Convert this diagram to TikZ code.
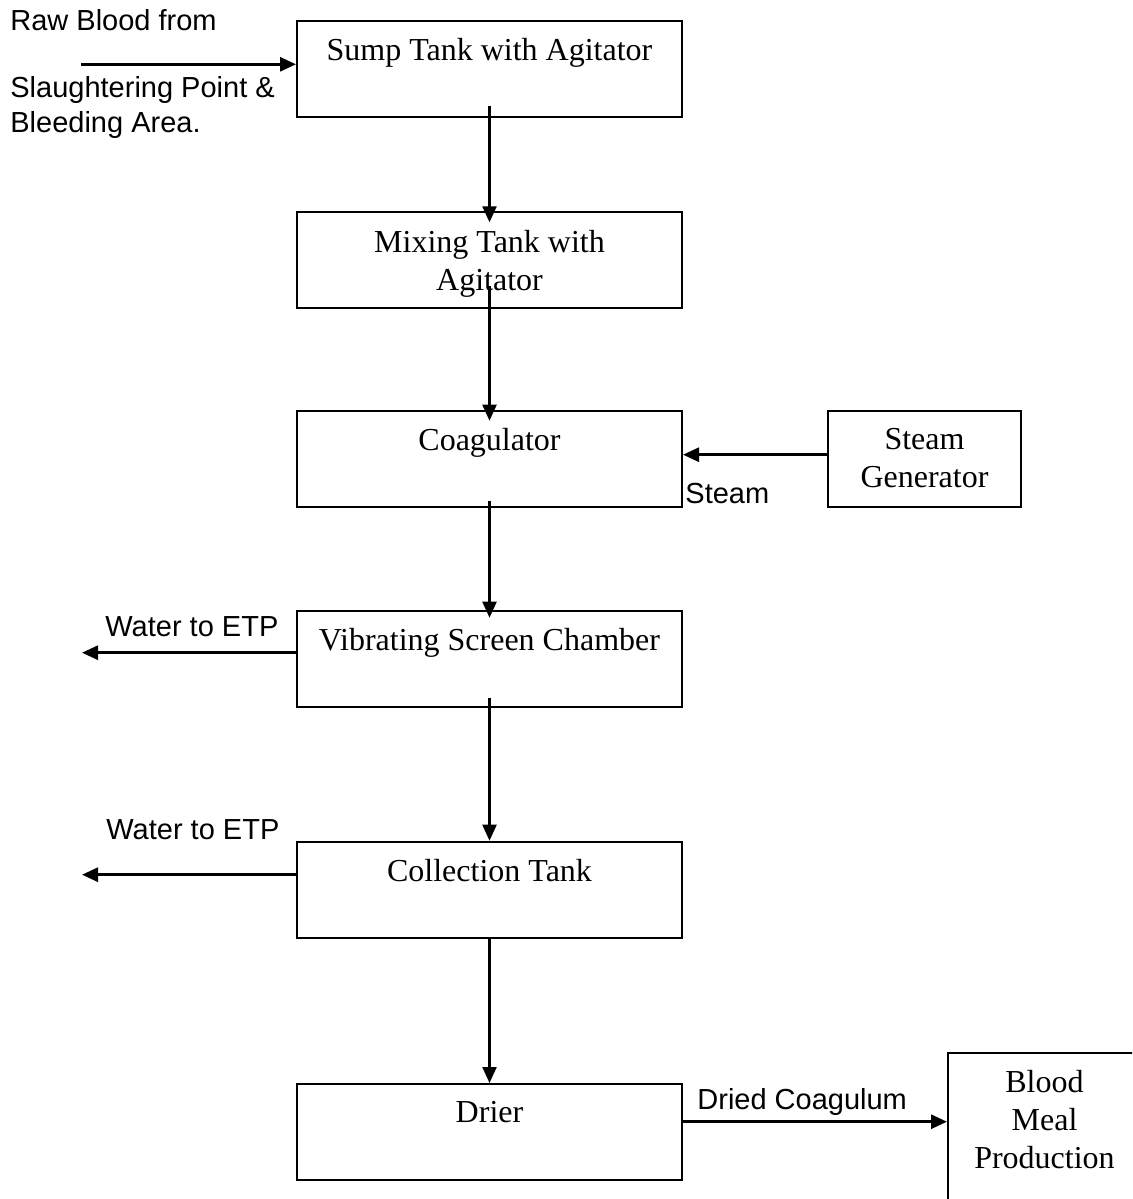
\documentclass[tikz,border=0pt]{standalone}
\usepackage{fontspec}
\setmainfont{Liberation Serif}
\setsansfont{Liberation Sans}
\usetikzlibrary{arrows.meta}

\begin{document}
\begin{tikzpicture}[x=0.5pt, y=-0.5pt, >={Triangle[length=8pt,width=7pt]},
  box/.style={draw, line width=1pt, minimum width=192.5pt, minimum height=48pt, inner sep=0pt},
  boxtext/.style={font=\fontsize{16}{19}\selectfont, align=center, inner sep=0pt, anchor=north, yshift=-9.1pt},
  flowtext/.style={font=\sffamily\fontsize{14.5}{17.3}\selectfont, inner sep=0pt},
  flow/.style={->, line width=1.15pt},
  side/.style={->, line width=1.4pt}]

  % Page frame
  \useasboundingbox (0,0) rectangle (1132,1199);
  \clip (0,0) rectangle (1132,1199);

  % Process boxes
  \node[box] (sump)  at (489.5,68.5)  {};
  \node[box] (mix)   at (489.5,260.3) {};
  \node[box] (coag)  at (489.5,458.7) {};
  \node[box] (vib)   at (489.5,658.7) {};
  \node[box] (coll)  at (489.5,889.7) {};
  \node[box] (drier) at (489.5,1132)  {};
  \node[box, minimum width=96.5pt] (steamgen) at (924.5,458.7) {};
  \node[box, minimum width=96.5pt, minimum height=80pt] (blood) at (1044.5,1133) {};

  % Box texts
  \node[boxtext] (sumpT)     at (sump.north)     {Sump Tank with Agitator};
  \node[boxtext] (mixT)      at (mix.north)      {Mixing Tank with\\Agitator};
  \node[boxtext] (coagT)     at (coag.north)     {Coagulator};
  \node[boxtext] (steamgenT) at (steamgen.north) {Steam\\Generator};
  \node[boxtext] (vibT)      at (vib.north)      {Vibrating Screen Chamber};
  \node[boxtext] (collT)     at (coll.north)     {Collection Tank};
  \node[boxtext] (drierT)    at (drier.north)    {Drier};
  \node[boxtext] (bloodT)    at (blood.north)    {Blood\\Meal\\Production};

  % Main flow
  \draw[flow] ([yshift=6pt]sump.south) -- ([yshift=-5.5pt]mix.north);
  \draw[flow] ([yshift=11.5pt]mix.south) -- ([yshift=-5.5pt]coag.north);
  \draw[flow] ([yshift=3.3pt]coag.south) -- ([yshift=-4pt]vib.north);
  \draw[flow] ([yshift=5pt]vib.south) -- (coll.north);
  \draw[flow] (coll.south) -- (drier.north);

  % Raw blood inlet
  \coordinate (inlet) at (81,64.3);
  \draw[side] (inlet) -- (inlet -| sump.west);
  \node[flowtext, anchor=base west] (rawT) at (10,30.7) {Raw Blood from};
  \node[flowtext, anchor=north west, align=left] (slaughterT) at (10,76) {Slaughtering Point \&\\Bleeding Area.};

  % Steam feed
  \draw[side] ([yshift=2pt]steamgen.west) -- ([yshift=2pt]coag.east);
  \node[flowtext, anchor=base west] (steamT) at ([xshift=1pt,yshift=2pt]coag.south east) {Steam};

  % Water outlets
  \coordinate (etp) at (82,0);
  \draw[side] ([yshift=3pt]vib.west) coordinate (vibout) -- (vibout -| etp);
  \node[flowtext, anchor=base west] (etpA) at (105,636.7) {Water to ETP};
  \draw[side] ([yshift=7.5pt]coll.west) coordinate (collout) -- (collout -| etp);
  \node[flowtext, anchor=base west] (etpB) at (106,839) {Water to ETP};

  % Product
  \draw[side] ([yshift=5.15pt]drier.east) coordinate (dryout) -- (dryout -| blood.west);
  \node[flowtext, anchor=base west] (dryT) at (697,1109) {Dried Coagulum};
\end{tikzpicture}
\end{document}
